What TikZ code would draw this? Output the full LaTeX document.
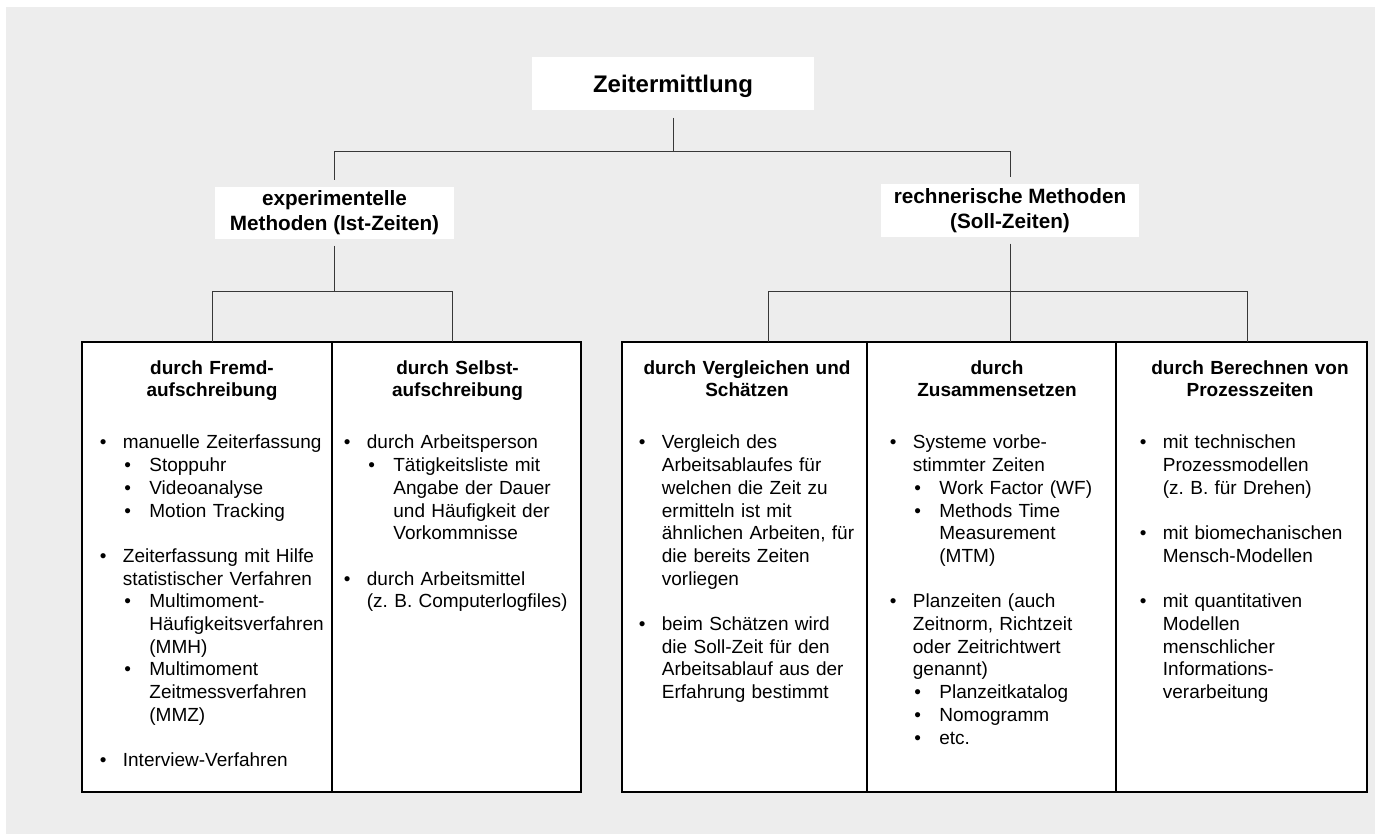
\documentclass[tikz,border=0pt]{standalone}
\usepackage{fontspec}
\setmainfont{Liberation Sans}
\usepackage{tikz}
\usetikzlibrary{positioning,calc,shadows}
\frenchspacing
\colorlet{paneGray}{black!7}
\colorlet{linkGray}{black!78}
\newcommand{\bodyfont}{\fontsize{19}{22.7}\selectfont}
\newcommand{\listpt}[1]{\par\hangindent=23pt\hangafter=1\noindent\strut\makebox[23pt][l]{\textbullet}#1\par}
\newcommand{\listsub}[1]{\par\hangindent=49.5pt\hangafter=1\noindent\strut\hspace*{24.5pt}\makebox[25pt][l]{\textbullet}#1\par}
\newcommand{\emptyrow}{\par\vskip\baselineskip}

\begin{document}
\begin{tikzpicture}[x=1pt,y=-1pt,
  headbox/.style={fill=white,inner sep=0pt,outer sep=8pt,text height=19pt,text depth=0pt,
    font=\bfseries\fontsize{24}{28}\selectfont},
  levelbox/.style={fill=white,inner sep=0pt,outer sep=7pt,align=center,font=\bfseries\fontsize{20.7}{25}\selectfont},
  colbox/.style={draw=black,line width=1.7pt,fill=white,minimum height=450pt,inner sep=0pt,outer sep=0pt,
    drop shadow={shadow xshift=1.2pt,shadow yshift=-1.2pt,fill=black!30}},
  coltitle/.style={anchor=north,text width=236pt,align=center,inner sep=0pt,font=\bfseries\bodyfont},
  colbody/.style={anchor=north west,inner sep=0pt,font=\bodyfont,
    execute at begin node=\setlength{\parindent}{0pt}},
  link/.style={draw=linkGray,line width=0.9pt}]
\fill[white] (0,0) rectangle (1375,834);
\fill[paneGray] (6,7) rectangle (1375,834);

% upper levels
\node[headbox,minimum width=282pt,minimum height=53pt] (zeit) at (673,83.5) {Zeitermittlung};
\node[levelbox,minimum width=239pt,minimum height=52pt] (exp) at (334.5,213) {experimentelle\\Methoden (Ist-Zeiten)};
\node[levelbox,minimum width=258pt,minimum height=53pt] (rech) at (1010,210.5) {rechnerische Methoden\\(Soll-Zeiten)};

% columns
\node[colbox,minimum width=250pt,anchor=north west] (colA) at (82,342) {};
\node[colbox,minimum width=249pt,right=0pt of colA] (colB) {};
\node[colbox,minimum width=245pt,right=41pt of colB] (colC) {};
\node[colbox,minimum width=249pt,right=0pt of colC] (colD) {};
\node[colbox,minimum width=251pt,right=0pt of colD] (colE) {};

\node[coltitle] (tFremd) at ($(colA.north)+(5,16)$) {\strut durch Fremd-\\aufschreibung};
\node[coltitle] (tSelbst) at ($(colB.north)+(1,16)$) {\strut durch Selbst-\\aufschreibung};
\node[coltitle] (tVergl) at ($(colC.north)+(2.5,16)$) {\strut durch Vergleichen und\\Schätzen};
\node[coltitle] (tZus) at ($(colD.north)+(5.5,16)$) {\strut durch\\Zusammensetzen};
\node[coltitle] (tBer) at ($(colE.north)+(8.5,16)$) {\strut durch Berechnen von\\Prozesszeiten};

\node[colbody,text width=230pt] (bFremd) at ($(colA.north west)+(17.7,84)$) {%
  \listpt{manuelle Zeiterfassung}
  \listsub{Stoppuhr}
  \listsub{Videoanalyse}
  \listsub{Motion Tracking}
  \emptyrow
  \listpt{Zeiterfassung mit Hilfe\newline statistischer Verfahren}
  \listsub{Multimoment-\newline Häufigkeitsverfahren\newline (MMH)}
  \listsub{Multimoment\newline Zeitmessverfahren\newline (MMZ)}
  \emptyrow
  \listpt{Interview-Verfahren}};
\node[colbody,text width=235pt] (bSelbst) at ($(colB.north west)+(11.7,84)$) {%
  \listpt{durch Arbeitsperson}
  \listsub{Tätigkeitsliste mit\newline Angabe der Dauer\newline und Häufigkeit der\newline Vorkommnisse}
  \emptyrow
  \listpt{durch Arbeitsmittel\newline (z. B. Computerlogfiles)}};
\node[colbody,text width=226pt] (bVergl) at ($(colC.north west)+(16.7,84)$) {%
  \listpt{Vergleich des\newline Arbeitsablaufes für\newline welchen die Zeit zu\newline ermitteln ist mit\newline ähnlichen Arbeiten, für\newline die bereits Zeiten\newline vorliegen}
  \emptyrow
  \listpt{beim Schätzen wird\newline die Soll-Zeit für den\newline Arbeitsablauf aus der\newline Erfahrung bestimmt}};
\node[colbody,text width=224pt] (bZus) at ($(colD.north west)+(22.7,84)$) {%
  \listpt{Systeme vorbe-\newline stimmter Zeiten}
  \listsub{Work Factor (WF)}
  \listsub{Methods Time\newline Measurement\newline (MTM)}
  \emptyrow
  \listpt{Planzeiten (auch\newline Zeitnorm, Richtzeit\newline oder Zeitrichtwert\newline genannt)}
  \listsub{Planzeitkatalog}
  \listsub{Nomogramm}
  \listsub{etc.}};
\node[colbody,text width=224pt] (bBer) at ($(colE.north west)+(23.7,84)$) {%
  \listpt{mit technischen\newline Prozessmodellen\newline (z. B. für Drehen)}
  \emptyrow
  \listpt{mit biomechanischen\newline Mensch-Modellen}
  \emptyrow
  \listpt{mit quantitativen\newline Modellen\newline menschlicher\newline Informations-\newline verarbeitung}};

% connectors
\draw[link] (zeit.south) -- ++(0,33.5) -| (exp.north);
\draw[link] (zeit.south) -- ++(0,33.5) -| (rech.north);
\draw[link] (exp.south) -- ++(0,45) -| ($(colA.north)+(5,0)$);
\draw[link] (exp.south) -- ++(0,45) -| ($(colB.north)+(-4.5,0)$);
\draw[link] (rech.south) -- (rech.south |- colD.north);
\draw[link] (rech.south) -- ++(0,47) -| ($(colC.north)+(23.5,0)$);
\draw[link] (rech.south) -- ++(0,47) -| ($(colE.north)+(5.5,0)$);
\end{tikzpicture}
\end{document}
